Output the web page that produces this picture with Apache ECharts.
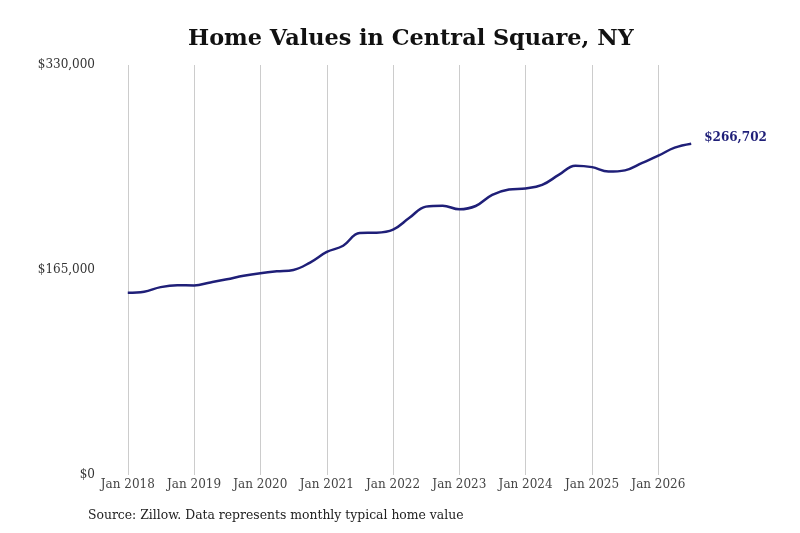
<!DOCTYPE html>
<html>
<head>
<meta charset="utf-8">
<script src="https://cdn.jsdelivr.net/npm/echarts@6/dist/echarts.min.js"></script>
<style>
  html, body { margin: 0; padding: 0; background: #fff; }
  #chart { width: 800px; height: 533px; }
</style>
</head>
<body>
<div id="chart"></div>
<script>
// quarterly readings of the typical home value
var dates = [
  '2018-01-01', '2018-04-01', '2018-07-01', '2018-10-01',
  '2019-01-01', '2019-04-01', '2019-07-01', '2019-10-01',
  '2020-01-01', '2020-04-01', '2020-07-01', '2020-10-01',
  '2021-01-01', '2021-04-01', '2021-07-01', '2021-10-01',
  '2022-01-01', '2022-04-01', '2022-07-01', '2022-10-01',
  '2023-01-01', '2023-04-01', '2023-07-01', '2023-10-01',
  '2024-01-01', '2024-04-01', '2024-07-01', '2024-10-01',
  '2025-01-01', '2025-04-01', '2025-07-01', '2025-10-01',
  '2026-01-01', '2026-04-01', '2026-07-01'
];
var values = [
  146600, 147500, 151200, 152700,
  152600, 155000, 157500, 160300,
  162400, 163900, 165000, 171000,
  179500, 184500, 194800, 195000,
  197500, 207000, 216000, 216800,
  213900, 216500, 225500, 229800,
  230600, 233500, 241500, 249000,
  247800, 244200, 245200, 251000,
  257000, 263500, 266702
];
var yTicks = [0, 165000, 330000];

var serif = 'DejaVu Serif';
var seriesData = [];
for (var i = 0; i < dates.length; i++) {
  seriesData.push([dates[i], values[i]]);
}

function money(v) {
  return '$' + v.toString().replace(/\B(?=(\d{3})+(?!\d))/g, ',');
}

var chart = echarts.init(document.getElementById('chart'));
var option = {
  backgroundColor: '#fff',
  animation: false,
  title: {
    text: 'Home Values in Central Square, NY',
    left: 183,
    top: 23,
    textStyle: { fontFamily: serif, fontWeight: 'bold', fontSize: 22.4, color: '#111' }
  },
  grid: { left: 100, right: 81, top: 65, bottom: 58, containLabel: false },
  xAxis: {
    type: 'time',
    min: '2017-08-01',
    max: '2026-12-01',
    minInterval: 365 * 24 * 3600 * 1000,
    maxInterval: 366 * 24 * 3600 * 1000,
    axisLine: { show: false },
    axisTick: { show: false },
    splitLine: {
      show: true, showMinLine: false, showMaxLine: false,
      lineStyle: { color: '#cccccc', width: 1 }
    },
    axisLabel: {
      fontFamily: serif, fontSize: 12, color: '#444', margin: 4,
      hideOverlap: false, showMinLabel: false, showMaxLabel: false,
      formatter: function (val) {
        var d = new Date(val);
        return 'Jan ' + d.getFullYear();
      }
    }
  },
  yAxis: {
    type: 'value',
    min: 0,
    max: 330000,
    interval: 165000,
    axisLine: { show: false },
    axisTick: { show: false },
    splitLine: { show: false },
    axisLabel: {
      fontFamily: serif, fontSize: 12, color: '#333', margin: 5,
      formatter: function (v) { return yTicks.indexOf(v) >= 0 ? money(v) : ''; }
    }
  },
  series: [{
    type: 'line',
    data: seriesData,
    smooth: 0.4,
    showSymbol: false,
    lineStyle: { color: '#1f1f78', width: 2.5 },
    endLabel: {
      show: true,
      distance: 13,
      formatter: function (p) { return money(p.value[1]); },
      fontFamily: serif, fontWeight: 'bold', fontSize: 12, color: '#1f1f78',
      offset: [0, -6]
    }
  }],
  graphic: [{
    type: 'text',
    left: 88,
    top: 510,
    style: {
      text: 'Source: Zillow. Data represents monthly typical home value',
      font: '12.4px "DejaVu Serif"',
      fill: '#222'
    }
  }]
};
chart.setOption(option);
</script>
</body>
</html>
